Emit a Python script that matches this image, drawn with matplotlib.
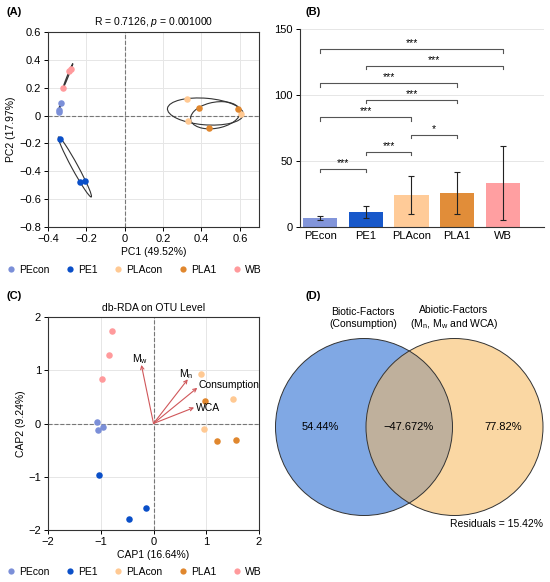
import numpy as np
import matplotlib
matplotlib.use("Agg")
import matplotlib.pyplot as plt
from matplotlib.patches import Ellipse, Circle
from matplotlib.lines import Line2D

plt.rcParams['font.family'] = ['Liberation Sans', 'DejaVu Sans']
plt.rcParams['mathtext.fontset'] = 'custom'
plt.rcParams['mathtext.rm'] = 'Liberation Sans'
plt.rcParams['mathtext.it'] = 'Liberation Sans:italic'
plt.rcParams['font.size'] = 7.5

# groups / colours
groups = ['PEcon', 'PE1', 'PLAcon', 'PLA1', 'WB']
colors = ['#7b8fd8', '#0a4fc8', '#ffc993', '#e0872e', '#ff9a9c']

# (A) PCoA scores
pc1 = {'PEcon': [-0.333, -0.344, -0.342],
       'PE1': [-0.340, -0.233, -0.206],
       'PLAcon': [0.326, 0.328, 0.608],
       'PLA1': [0.389, 0.592, 0.437],
       'WB': [-0.321, -0.289, -0.280]}
pc2 = {'PEcon': [0.092, 0.041, 0.029],
       'PE1': [-0.165, -0.475, -0.467],
       'PLAcon': [0.116, -0.041, 0.012],
       'PLA1': [0.053, 0.044, -0.090],
       'WB': [0.199, 0.320, 0.332]}

# (B) bars
bar_mean = [6.8, 11.4, 24.2, 25.5, 33.6]
bar_sd = [1.3, 4.8, 14.2, 16.0, 28.0]
# pairs (i, j, height, label)
sig_pairs = [(0, 1, 43.9, '***'), (1, 2, 56.8, '***'), (2, 3, 69.9, '*'),
             (0, 2, 83.0, '***'), (1, 3, 96.2, '***'), (0, 3, 108.8, '***'),
             (1, 4, 122.0, '***'), (0, 4, 134.6, '***')]

# (C) db-RDA site scores
cap1 = {'PEcon': [-1.08, -1.05, -0.95],
        'PE1': [-1.03, -0.15, -0.47],
        'PLAcon': [0.90, 1.51, 0.95],
        'PLA1': [0.97, 1.21, 1.56],
        'WB': [-0.78, -0.85, -0.97]}
cap2 = {'PEcon': [0.02, -0.13, -0.06],
        'PE1': [-0.96, -1.59, -1.79],
        'PLAcon': [0.93, 0.46, -0.10],
        'PLA1': [0.42, -0.32, -0.31],
        'WB': [1.74, 1.29, 0.83]}
env_names = [r'M$_\mathregular{w}$', r'M$_\mathregular{n}$', 'Consumption', 'WCA']
env_x = [-0.23, 0.65, 0.83, 0.77]
env_y = [1.10, 0.83, 0.67, 0.30]

# (D) venn values
venn_left = '54.44%'
venn_mid = '\u221247.672%'
venn_right = '77.82%'
residuals = 'Residuals = 15.42%'

fig = plt.figure(figsize=(5.5, 5.82), dpi=100)
W, H = 550.0, 582.0


def px_axes(l, t, r, b):
    return fig.add_axes([l / W, 1 - b / H, (r - l) / W, (b - t) / H])


def style_box(ax):
    for s in ax.spines.values():
        s.set_color('#333333')
        s.set_linewidth(0.8)
    ax.tick_params(length=3, width=0.7, labelsize=8, pad=2)
    ax.grid(color='#e6e6e6', lw=0.7)
    ax.set_axisbelow(True)
    ax.axhline(0, color='#777777', lw=0.8, ls='--', zorder=1)
    ax.axvline(0, color='#777777', lw=0.8, ls='--', zorder=1)


def conf_ellipse(ax, x, y, k=1.22):
    x = np.asarray(x)
    y = np.asarray(y)
    cov = np.cov(x, y)
    vals, vecs = np.linalg.eigh(cov)
    vals = np.clip(vals, 1e-7, None)
    ang = np.degrees(np.arctan2(vecs[1, 1], vecs[0, 1]))
    e = Ellipse((x.mean(), y.mean()), 2 * k * np.sqrt(vals[1]), 2 * k * np.sqrt(vals[0]),
                angle=ang, fill=False, ec='#333333', lw=0.8, zorder=2)
    ax.add_patch(e)


# ---- (A)
axA = px_axes(48, 32, 259, 227)
style_box(axA)
for g, c in zip(groups, colors):
    conf_ellipse(axA, pc1[g], pc2[g])
    axA.scatter(pc1[g], pc2[g], s=22, color=c, zorder=3, lw=0)
axA.set_xlim(-0.4, 0.7)
axA.set_ylim(-0.8, 0.6)
axA.set_xticks([-0.4, -0.2, 0, 0.2, 0.4, 0.6])
axA.set_xticklabels(['\u22120.4', '\u22120.2', '0', '0.2', '0.4', '0.6'])
axA.set_yticks([-0.8, -0.6, -0.4, -0.2, 0, 0.2, 0.4, 0.6])
axA.set_yticklabels(['\u22120.8', '\u22120.6', '\u22120.4', '\u22120.2', '0', '0.2', '0.4', '0.6'])
axA.set_xlabel('PC1 (49.52%)', fontsize=7.5, labelpad=2)
axA.set_ylabel('PC2 (17.97%)', fontsize=7.5, labelpad=2)
axA.set_title(r'R = 0.7126, $\it{p}$ = 0.001000', fontsize=7.5, pad=5)

# ---- (B)
axB = px_axes(300, 29, 544, 227)
xb = np.arange(len(groups))
axB.bar(xb, bar_mean, width=0.75, color=colors, alpha=0.95, zorder=2)
axB.errorbar(xb, bar_mean, yerr=bar_sd, fmt='none', ecolor='#222222',
             elinewidth=0.8, capsize=2.5, capthick=0.8, zorder=3)
for i, j, h, lab in sig_pairs:
    axB.plot([i, i, j, j], [h - 2.6, h, h, h - 2.6], color='#555555', lw=0.8)
    axB.text((i + j) / 2, h + 0.8, lab, ha='center', va='bottom', fontsize=7.5)
axB.set_xlim(-0.44, 4.9)
axB.set_ylim(0, 150)
axB.set_yticks([0, 50, 100, 150])
axB.set_xticks(xb)
axB.set_xticklabels(groups)
axB.tick_params(axis='x', length=0, labelsize=8, pad=3)
axB.tick_params(axis='y', length=3, width=0.7, labelsize=8, pad=2)
axB.grid(axis='y', color='#e6e6e6', lw=0.7)
axB.set_axisbelow(True)
for s in ['top', 'right']:
    axB.spines[s].set_visible(False)
for s in ['left', 'bottom']:
    axB.spines[s].set_color('#333333')
    axB.spines[s].set_linewidth(0.8)

# ---- (C)
axC = px_axes(48, 317, 259, 530)
style_box(axC)
for g, c in zip(groups, colors):
    axC.scatter(cap1[g], cap2[g], s=22, color=c, zorder=3, lw=0)
for n, ex, ey in zip(env_names, env_x, env_y):
    axC.annotate('', xy=(ex, ey), xytext=(0, 0),
                 arrowprops=dict(arrowstyle='->', color='#d0575a', lw=0.8,
                                 mutation_scale=6, shrinkA=0, shrinkB=0), zorder=4)
axC.text(-0.26, 1.2, env_names[0], ha='center', va='center', fontsize=7.5)
axC.text(0.61, 0.92, env_names[1], ha='center', va='center', fontsize=7.5)
axC.text(0.85, 0.72, env_names[2], ha='left', va='center', fontsize=7.5)
axC.text(0.80, 0.29, env_names[3], ha='left', va='center', fontsize=7.5)
axC.set_xlim(-2, 2)
axC.set_ylim(-2, 2)
axC.set_xticks([-2, -1, 0, 1, 2])
axC.set_xticklabels(['\u22122', '\u22121', '0', '1', '2'])
axC.set_yticks([-2, -1, 0, 1, 2])
axC.set_yticklabels(['\u22122', '\u22121', '0', '1', '2'])
axC.set_xlabel('CAP1 (16.64%)', fontsize=7.5, labelpad=2)
axC.set_ylabel('CAP2 (9.24%)', fontsize=7.5, labelpad=2)
axC.set_title('db-RDA on OTU Level', fontsize=7.5, pad=4)

# ---- (D) venn, drawn in pixel units
axD = px_axes(265, 291, 550, 582)
axD.set_xlim(265, 550)
axD.set_ylim(582, 291)
axD.axis('off')
r = 88.5
cl = Circle((364, 427), r, fc='#80a8e4', ec='none', zorder=1)
cr = Circle((454.5, 427), r, fc='#fad7a3', ec='none', zorder=2)
axD.add_patch(cl)
axD.add_patch(cr)
lens = Circle((364, 427), r, fc='#bfb09c', ec='none', zorder=3)
axD.add_patch(lens)
lens.set_clip_path(cr)
for cx in [364, 454.5]:
    axD.add_patch(Circle((cx, 427), r, fill=False, ec='#333333', lw=0.7, zorder=4))
axD.text(320, 427, venn_left, ha='center', va='center', fontsize=8, zorder=5)
axD.text(409, 427, venn_mid, ha='center', va='center', fontsize=8, zorder=5)
axD.text(503, 427, venn_right, ha='center', va='center', fontsize=8, zorder=5)
axD.text(363, 318, 'Biotic-Factors\n(Consumption)', ha='center', va='center',
         fontsize=7.5, linespacing=1.2)
axD.text(454, 318, 'Abiotic-Factors\n(M$_\\mathregular{n}$, M$_\\mathregular{w}$ and WCA)',
         ha='center', va='center', fontsize=7.5, linespacing=1.2)
axD.text(543, 524, residuals, ha='right', va='center', fontsize=7.5)

# legends
handles = [Line2D([], [], ls='none', marker='o', ms=4.5, mfc=c, mec='none') for c in colors]
for yl in [270, 572]:
    fig.legend(handles, groups, loc='center', bbox_to_anchor=(133 / W, 1 - yl / H),
               ncol=5, frameon=False, fontsize=7.5, handletextpad=0.15,
               columnspacing=1.4, handlelength=1.2)

# panel tags
for lab, x, y in [('(A)', 6, 12), ('(B)', 305, 12), ('(C)', 6, 296), ('(D)', 305, 296)]:
    fig.text(x / W, 1 - y / H, lab, fontsize=8, fontweight='bold', va='center')

fig.savefig('out.png', dpi=100)
